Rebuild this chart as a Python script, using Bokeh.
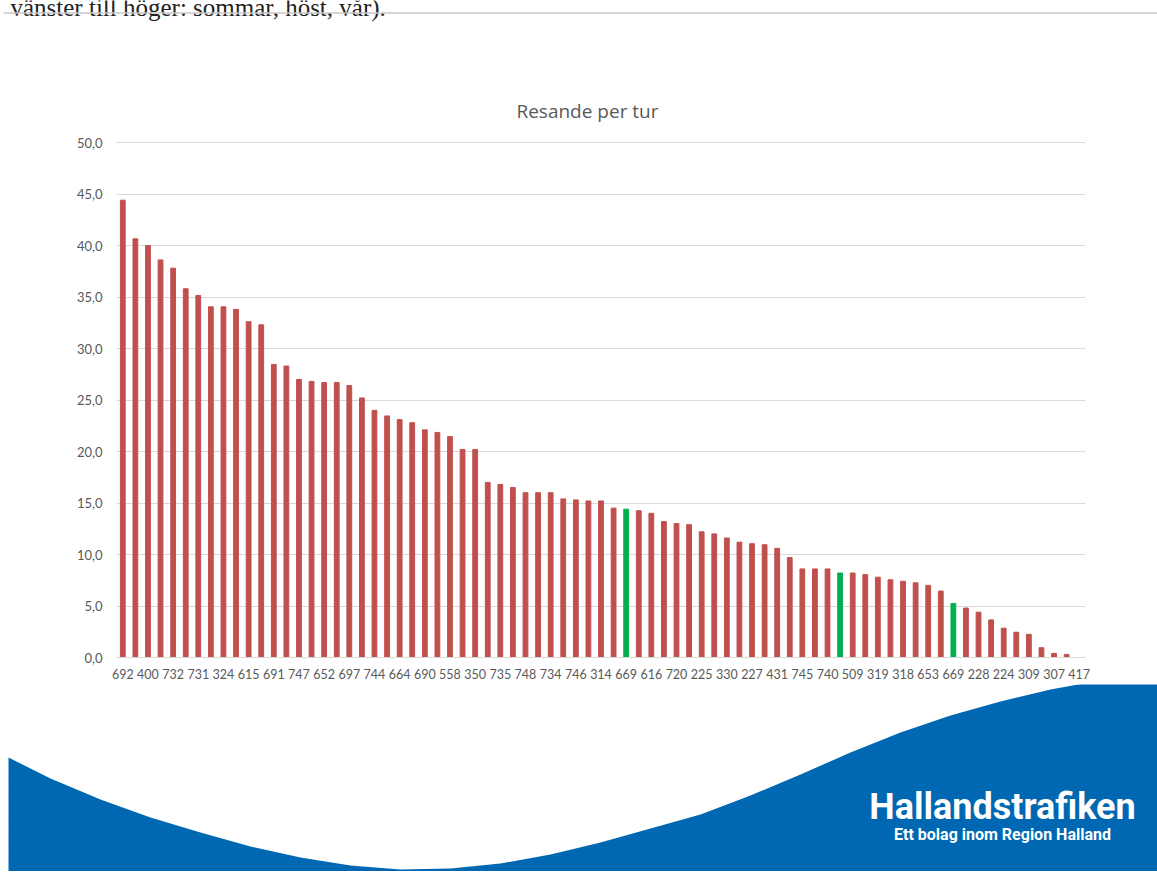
from bokeh.plotting import figure
from bokeh.layouts import column
from bokeh.models import FixedTicker, Range1d
from bokeh.core.properties import value
from bokeh.embed import file_html
from bokeh.resources import INLINE

# ---------------- data ----------------
chart_title = "Resande per tur"
values = [44.4, 40.65, 40.0, 38.6, 37.8, 35.8, 35.15, 34.05, 34.05, 33.8,
          32.6, 32.3, 28.45, 28.3, 27.0, 26.8, 26.7, 26.7, 26.4, 25.2,
          24.0, 23.45, 23.1, 22.8, 22.1, 21.85, 21.45, 20.2, 20.2, 17.0,
          16.8, 16.5, 16.0, 16.0, 16.0, 15.4, 15.3, 15.2, 15.2, 14.5,
          14.4, 14.25, 14.0, 13.2, 13.0, 12.9, 12.2, 12.0, 11.6, 11.2,
          11.05, 10.95, 10.6, 9.7, 8.6, 8.6, 8.6, 8.2, 8.2, 8.05,
          7.8, 7.55, 7.4, 7.25, 7.0, 6.45, 5.25, 4.8, 4.4, 3.65,
          2.85, 2.45, 2.25, 0.95, 0.4, 0.3, 0.0]
highlight_bars = [40, 57, 66]          # route 669 bars (green)
x_tick_labels = ["692", "400", "732", "731", "324", "615", "691", "747", "652", "697",
                 "744", "664", "690", "558", "350", "735", "748", "734", "746", "314",
                 "669", "616", "720", "225", "330", "227", "431", "745", "740", "509",
                 "319", "318", "653", "669", "228", "224", "309", "307", "417"]
y_ticks = [0, 5, 10, 15, 20, 25, 30, 35, 40, 45, 50]
y_tick_labels = ["0,0", "5,0", "10,0", "15,0", "20,0", "25,0", "30,0", "35,0", "40,0", "45,0", "50,0"]
header_text = "vänster till höger: sommar, höst, vår)."
logo_text = "Hallandstrafiken"
logo_sub = "Ett bolag inom Region Halland"

RED = "#C0504D"
GREEN = "#00B050"
BLUE = "#0068B2"
GREY_TXT = "#595959"
GRID = "#D9D9D9"

W = 1157
TOP_H = 130          # header + title strip (page y 0..130)
CH_H = 554           # chart figure (page y 130..684)
BOT_H = 187          # wave / logo strip (page y 684..871)


def deco_fig(y0, y1):
    f = figure(width=W, height=y1 - y0, x_range=Range1d(0, W), y_range=Range1d(y1, y0),
               output_backend="svg", toolbar_location=None, frame_align=False,
               min_border=0, min_border_left=0, min_border_right=0,
               min_border_top=0, min_border_bottom=0)
    f.axis.visible = False
    f.grid.visible = False
    f.outline_line_color = None
    f.background_fill_color = "white"
    f.border_fill_color = "white"
    return f


# ---------------- top strip ----------------
top = deco_fig(0, TOP_H)
top.text(x=[10], y=[7], text=[header_text], text_align="left", text_baseline="alphabetic",
         text_font=value("Liberation Serif"), text_font_size="25px", text_color="#222222")
top.segment(x0=[3], y0=[12.5], x1=[W], y1=[12.5], line_color="#C8C8C8", line_width=1.5)
top.text(x=[587], y=[110], text=[chart_title], text_align="center", text_baseline="middle",
         text_font=value("Open Sans"), text_font_size="19px", text_color=GREY_TXT)

# ---------------- chart ----------------
N = len(values)
FL, FR = 116, 1085            # frame left/right in page px
FRAME_TOP, FRAME_BOT = 140, 657
PY = 10.3
ymax = (FRAME_BOT - FRAME_TOP) / PY

p = figure(width=W, height=CH_H, x_range=Range1d(-0.5, N - 0.5), y_range=Range1d(0, ymax),
           output_backend="svg", toolbar_location=None, frame_align=False,
           min_border_left=FL, min_border_right=W - FR,
           min_border_top=FRAME_TOP - TOP_H, min_border_bottom=TOP_H + CH_H - FRAME_BOT)
p.outline_line_color = None
p.background_fill_color = "white"
p.border_fill_color = "white"

xs = list(range(N))
colors = [GREEN if i in highlight_bars else RED for i in xs]
p.vbar(x=xs, top=values, width=0.38, color=colors)

p.xgrid.visible = False
p.ygrid.ticker = FixedTicker(ticks=y_ticks)
p.ygrid.grid_line_color = GRID
p.ygrid.grid_line_width = 1

p.yaxis.ticker = FixedTicker(ticks=y_ticks)
p.yaxis.major_label_overrides = {t: l for t, l in zip(y_ticks, y_tick_labels)}
p.yaxis.axis_line_color = None
p.yaxis.major_tick_line_color = None
p.yaxis.minor_tick_line_color = None
p.yaxis.major_tick_out = 0
p.yaxis.major_label_standoff = 14
p.yaxis.major_label_text_font = "Lato"
p.yaxis.major_label_text_font_size = "13px"
p.yaxis.major_label_text_color = GREY_TXT

x_ticks = list(range(0, N, 2))
p.xaxis.ticker = FixedTicker(ticks=x_ticks)
p.xaxis.major_label_overrides = {t: l for t, l in zip(x_ticks, x_tick_labels)}
p.xaxis.axis_line_color = GRID
p.xaxis.major_tick_line_color = None
p.xaxis.minor_tick_line_color = None
p.xaxis.major_tick_out = 0
p.xaxis.major_label_standoff = 11
p.xaxis.major_label_text_font = "Lato"
p.xaxis.major_label_text_font_size = "12.5px"
p.xaxis.major_label_text_color = GREY_TXT

# ---------------- bottom strip ----------------
Y0 = TOP_H + CH_H
bot = deco_fig(Y0, Y0 + BOT_H)
wave = [(8, 757), (50, 778), (100, 799), (150, 817), (200, 832), (250, 846),
        (300, 857), (350, 865), (400, 869), (450, 868), (500, 863), (550, 854),
        (600, 842), (650, 828), (700, 814), (750, 795), (800, 774), (850, 752),
        (900, 732), (950, 715), (1000, 701), (1050, 689), (1100, 680), (1157, 673)]
wx = [a for a, b in wave] + [W, 8]
wy = [b for a, b in wave] + [Y0 + BOT_H + 2, Y0 + BOT_H + 2]
bot.patch(x=wx, y=wy, fill_color=BLUE, line_color=None)
bot.text(x=[1002], y=[806], text=[logo_text], text_align="center", text_baseline="alphabetic",
         text_font=value("Roboto"), text_font_style="bold", text_font_size="36px",
         text_color="white")
bot.text(x=[1002], y=[834], text=[logo_sub], text_align="center", text_baseline="alphabetic",
         text_font=value("Roboto"), text_font_style="bold", text_font_size="16px",
         text_color="white")

layout = column(top, p, bot, spacing=0)
open("out.html", "w").write(file_html(layout, INLINE))
